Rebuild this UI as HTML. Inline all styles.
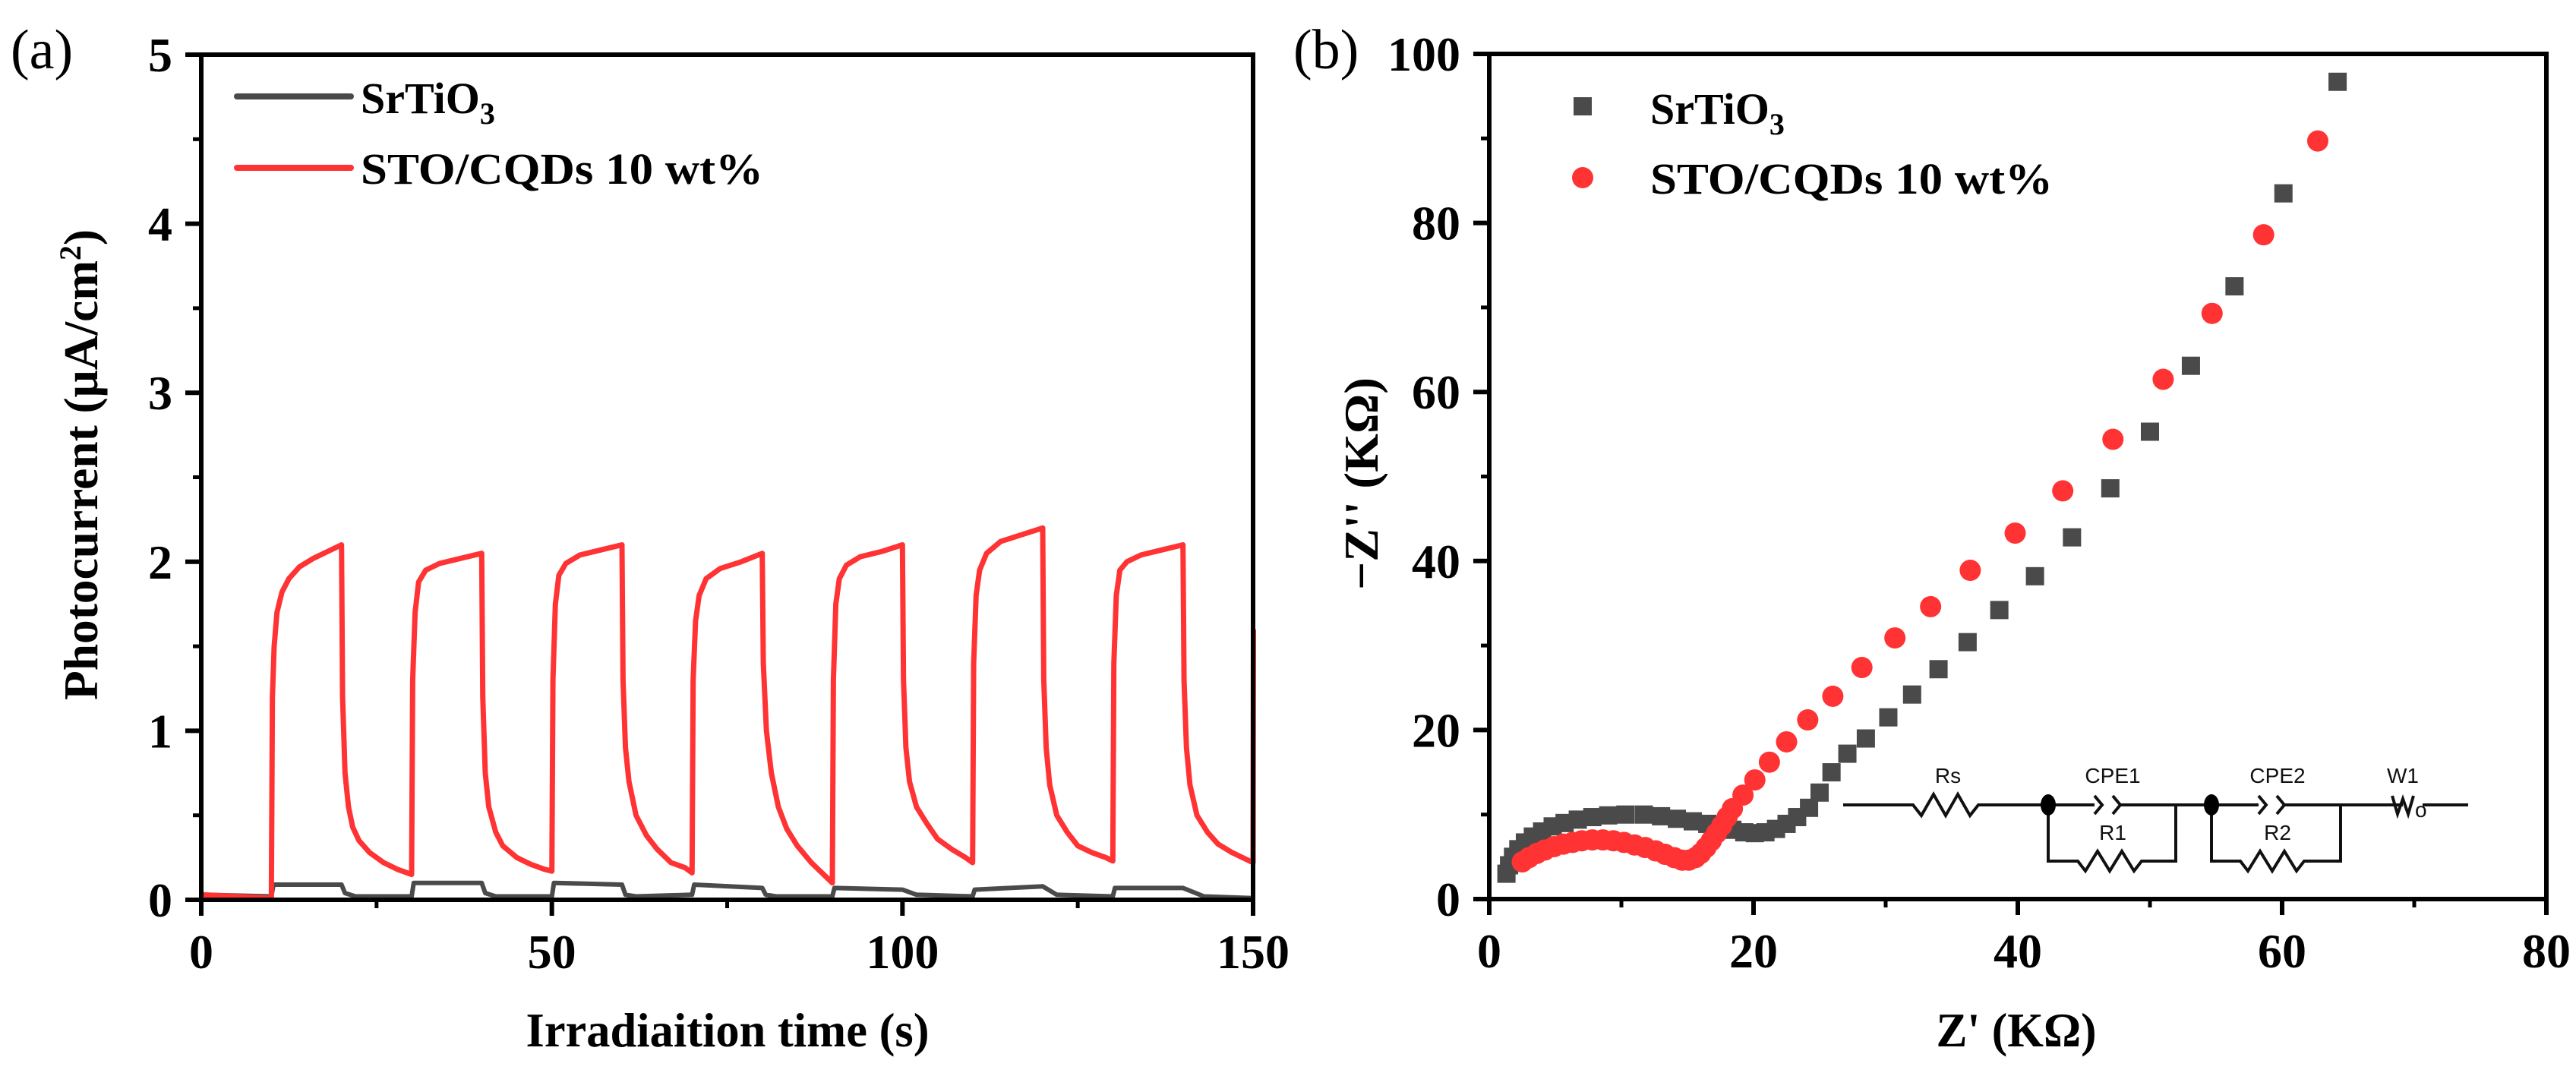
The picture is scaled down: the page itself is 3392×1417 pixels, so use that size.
<!DOCTYPE html>
<html><head><meta charset="utf-8"><style>
html,body{margin:0;padding:0;background:#fff;}
svg{display:block;}
text{font-family:"Liberation Serif",serif;font-weight:bold;fill:#000;}
.ct{font-family:"Liberation Sans",sans-serif;font-weight:normal;font-size:28px;fill:#111;}
</style></head><body>
<svg id="fig" width="3392" height="1417" viewBox="0 0 3392 1417" xmlns="http://www.w3.org/2000/svg">
<rect x="0" y="0" width="3392" height="1417" fill="#fff"/>
<text x="14" y="90" font-size="74" style="font-weight:normal">(a)</text>
<text x="1703" y="90" font-size="74" style="font-weight:normal">(b)</text>
<g id="panelA"></g>
<g id="panelB"></g>
<text x="958" y="1378" font-size="64" text-anchor="middle" textLength="531" lengthAdjust="spacingAndGlyphs">Irradiaition time (s)</text>
<text transform="translate(128,612) rotate(-90)" font-size="64" text-anchor="middle" textLength="620" lengthAdjust="spacingAndGlyphs">Photocurrent (μA/cm<tspan dy="-22" font-size="40">2</tspan><tspan dy="22">)</tspan></text>
<text x="2655" y="1378" font-size="64" text-anchor="middle" textLength="211" lengthAdjust="spacingAndGlyphs">Z' (KΩ)</text>
<text transform="translate(1814,637) rotate(-90)" font-size="64" text-anchor="middle" textLength="280" lengthAdjust="spacingAndGlyphs">−Z'' (KΩ)</text>
<g>
<line x1="312" y1="127" x2="462" y2="127" stroke="#4a4a4a" stroke-width="8" stroke-linecap="round"/>
<line x1="312" y1="221" x2="462" y2="221" stroke="#ff3333" stroke-width="8" stroke-linecap="round"/>
<text x="475" y="149" font-size="58">SrTiO<tspan dy="14" font-size="40">3</tspan></text>
<text x="475" y="242" font-size="58" textLength="530" lengthAdjust="spacingAndGlyphs">STO/CQDs 10 wt%</text>
</g>
<g>
<rect x="2072" y="128" width="24" height="24" fill="#4a4a4a"/>
<circle cx="2084" cy="234" r="14" fill="#ff3333"/>
<text x="2173" y="163" font-size="58">SrTiO<tspan dy="14" font-size="40">3</tspan></text>
<text x="2173" y="255" font-size="58" textLength="530" lengthAdjust="spacingAndGlyphs">STO/CQDs 10 wt%</text>
</g>
<g stroke="#111" stroke-width="4" fill="none">
<polyline points="2427,1060 2519,1060 2530,1074 2546,1046 2562,1074 2578,1046 2594,1074 2605,1060 2697,1060 2758,1060"/>
<polyline points="2758,1048 2768,1060 2758,1072"/>
<polyline points="2782,1048 2792,1060 2782,1072"/>
<polyline points="2792,1060 2912,1060 2974,1060"/>
<polyline points="2697,1060 2697,1134 2736,1134 2746,1147 2762,1121 2778,1147 2794,1121 2810,1147 2820,1134 2865,1134 2865,1060"/>
<polyline points="2974,1048 2984,1060 2974,1072"/>
<polyline points="2998,1048 3008,1060 2998,1072"/>
<polyline points="3008,1060 3164,1060"/>
<polyline points="2912,1060 2912,1134 2950,1134 2960,1147 2976,1121 2992,1147 3008,1121 3024,1147 3034,1134 3082,1134 3082,1060"/>
<polyline points="3150,1048 3157,1072 3164,1052 3171,1072 3178,1048"/>
<polyline points="3190,1060 3250,1060"/>
<ellipse cx="2697" cy="1060" rx="10" ry="14" fill="#000" stroke="none"/>
<ellipse cx="2912" cy="1060" rx="10" ry="14" fill="#000" stroke="none"/>
</g>
<text class="ct" x="2565" y="1031" text-anchor="middle">Rs</text>
<text class="ct" x="2782" y="1031" text-anchor="middle">CPE1</text>
<text class="ct" x="2999" y="1031" text-anchor="middle">CPE2</text>
<text class="ct" x="3164" y="1031" text-anchor="middle">W1</text>
<text class="ct" x="2782" y="1106" text-anchor="middle">R1</text>
<text class="ct" x="2999" y="1106" text-anchor="middle">R2</text>
<text class="ct" x="3180" y="1076" font-size="16">o</text>
</svg>
<script>
const aXTicks = [0, 50, 100, 150];
const aYTicks = [0, 1, 2, 3, 4, 5];
const bXTicks = [0, 20, 40, 60, 80];
const bYTicks = [0, 20, 40, 60, 80, 100];
const redTime = [0,10,10.15,10.4,10.8,11.5,12.5,14,16,18,20,20.15,20.5,21,21.6,22.5,24,26,28,30,
30.15,30.5,31,32,34,37,40,40.15,40.5,41,42,43,45,47,49,50,
50.15,50.5,51,52,54,57,60,60.15,60.5,61,62,63.5,65,67,69,70,
70.15,70.5,71,72,74,77,80,80.15,80.6,81.3,82.3,83.5,85,87,89,90,
90.15,90.5,91,92,94,97,100,100.15,100.5,101,102,103.5,105,107,109,110,
110.15,110.5,111,112,114,117,120,120.15,120.5,121,122,123.5,125,127,129,130,
130.15,130.5,131,132,134,137,140,140.15,140.5,141,142,143.5,145,147,149,150,150.05];
const redValue = [0.03,0.01,1.2,1.5,1.7,1.82,1.9,1.97,2.02,2.06,2.1,1.2,0.75,0.55,0.43,0.35,0.28,0.22,0.18,0.15,
1.3,1.7,1.88,1.95,1.99,2.02,2.05,1.2,0.75,0.55,0.4,0.32,0.25,0.21,0.18,0.17,
1.3,1.75,1.92,1.99,2.04,2.07,2.1,1.3,0.9,0.7,0.5,0.38,0.3,0.22,0.19,0.16,
1.3,1.65,1.8,1.9,1.96,2.0,2.05,1.4,1.0,0.75,0.55,0.42,0.32,0.22,0.14,0.1,
1.3,1.75,1.9,1.98,2.03,2.06,2.1,1.3,0.9,0.7,0.55,0.45,0.36,0.3,0.25,0.22,
1.4,1.8,1.95,2.05,2.12,2.16,2.2,1.3,0.9,0.68,0.5,0.4,0.32,0.28,0.25,0.23,
1.4,1.8,1.95,2.0,2.04,2.07,2.1,1.3,0.9,0.68,0.5,0.4,0.33,0.28,0.24,0.22,1.6];
const grayTime = [0,10,10.3,20,20.5,22,30,30.3,40,40.5,42,50,50.3,60,60.5,62,70,70.3,80,80.5,82,90,90.3,100,102,110,110.3,120,122,130,130.3,140,143,150];
const grayValue = [0.03,0.02,0.09,0.09,0.04,0.02,0.02,0.1,0.1,0.04,0.02,0.02,0.1,0.09,0.03,0.02,0.03,0.09,0.07,0.03,0.02,0.02,0.07,0.06,0.03,0.02,0.06,0.08,0.03,0.02,0.07,0.07,0.02,0.01];
const sqX = [1.3,1.5,1.8,2.2,2.7,3.3,4.0,4.8,5.7,6.7,7.8,9.0,10.3,11.7,13.0,14.2,15.4,16.5,17.5,18.4,19.3,20.1,20.9,21.7,22.5,23.3,24.2,25.0,25.9,27.1,28.5,30.2,32.0,34.0,36.2,38.6,41.3,44.1,47.0,50.0,53.1,56.4,60.1,64.2];
const sqY = [3.0,4.0,5.0,5.9,6.7,7.4,8.0,8.6,9.0,9.4,9.7,9.9,10.0,10.0,9.8,9.5,9.2,8.9,8.5,8.2,7.9,7.8,7.9,8.3,8.9,9.7,10.8,12.6,15.0,17.2,19.0,21.5,24.2,27.2,30.4,34.2,38.2,42.8,48.6,55.3,63.1,72.5,83.5,96.7];
const ciX = [2.5,3.0,3.6,4.2,4.9,5.6,6.3,7.0,7.8,8.6,9.4,10.2,11.0,11.8,12.6,13.3,14.0,14.6,15.1,15.6,16.0,16.4,16.8,17.2,17.6,18.0,18.4,19.2,20.1,21.2,22.5,24.1,26.0,28.2,30.7,33.4,36.4,39.8,43.4,47.2,51.0,54.7,58.6,62.7];
const ciY = [4.4,4.9,5.4,5.8,6.2,6.5,6.7,6.9,7.0,7.0,6.9,6.7,6.4,6.1,5.7,5.3,4.9,4.6,4.6,4.9,5.4,6.1,6.9,7.8,8.7,9.7,10.7,12.3,14.1,16.2,18.6,21.2,24.0,27.4,30.9,34.6,38.9,43.3,48.3,54.4,61.5,69.3,78.6,89.7];

const NS = 'http://www.w3.org/2000/svg';
function ax(t){return 265 + t*(1385/150);}
function ay(v){return 1185 - v*(1113/5);}
function bx(z){return 1961 + z*(1392/80);}
function by(v){return 1184 - v*(1113/100);}
function mk(tag, attrs, parent){const e=document.createElementNS(NS,tag);for(const k in attrs)e.setAttribute(k,attrs[k]);parent.appendChild(e);return e;}

function axes(g, L, R, T, B, xTicks, yTicks, xf, yf, xMinor, yMinor, prefix){
  for(const v of xMinor){const l=mk('line',{x1:xf(v),x2:xf(v),y1:B,y2:B+11,stroke:'#000','stroke-width':5},g);
    
    }
  for(const v of yMinor){const l=mk('line',{x1:L-11,x2:L,y1:yf(v),y2:yf(v),stroke:'#000','stroke-width':5},g);
    
    }
  for(const v of xTicks){const l=mk('line',{x1:xf(v),x2:xf(v),y1:B,y2:B+21,stroke:'#000','stroke-width':6},g);
    
    
    const t=mk('text',{x:xf(v),y:B+90,'font-size':64,'text-anchor':'middle'},g);t.textContent=v;
    
    }
  for(const v of yTicks){const l=mk('line',{x1:L-21,x2:L,y1:yf(v),y2:yf(v),stroke:'#000','stroke-width':6},g);
    
    
    const t=mk('text',{x:L-38,y:yf(v)+22,'font-size':64,'text-anchor':'end'},g);t.textContent=v;
    
    }
  const f=mk('rect',{x:L,y:T,width:R-L,height:B-T,fill:'none',stroke:'#000','stroke-width':6},g);
  
  
}

const gA=document.getElementById('panelA');
const gB=document.getElementById('panelB');
const minorA=[25,75,125], minorAy=[0.5,1.5,2.5,3.5,4.5];
const minorB=[10,30,50,70], minorBy=[10,30,50,70,90];

let pts=grayTime.map((t,i)=>ax(t).toFixed(1)+','+ay(grayValue[i]).toFixed(1)).join(' ');
const gl=mk('polyline',{points:pts,fill:'none',stroke:'#4a4a4a','stroke-width':6,'stroke-linejoin':'round'},gA);


pts=redTime.map((t,i)=>ax(t).toFixed(1)+','+ay(redValue[i]).toFixed(1)).join(' ');
const rl=mk('polyline',{points:pts,fill:'none',stroke:'#ff3333','stroke-width':7,'stroke-linejoin':'round'},gA);


axes(gA,265,1650,72,1185,aXTicks,aYTicks,ax,ay,minorA,minorAy,'a-');

for(let i=0;i<sqX.length;i++){
  const r=mk('rect',{x:bx(sqX[i])-12,y:by(sqY[i])-12,width:24,height:24,fill:'#4a4a4a'},gB);
  
  
}
for(let i=0;i<ciX.length;i++){
  const c=mk('circle',{cx:bx(ciX[i]),cy:by(ciY[i]),r:14,fill:'#ff3333'},gB);
  
  
}
axes(gB,1961,3353,71,1184,bXTicks,bYTicks,bx,by,minorB,minorBy,'b-');
</script>
</body></html>
